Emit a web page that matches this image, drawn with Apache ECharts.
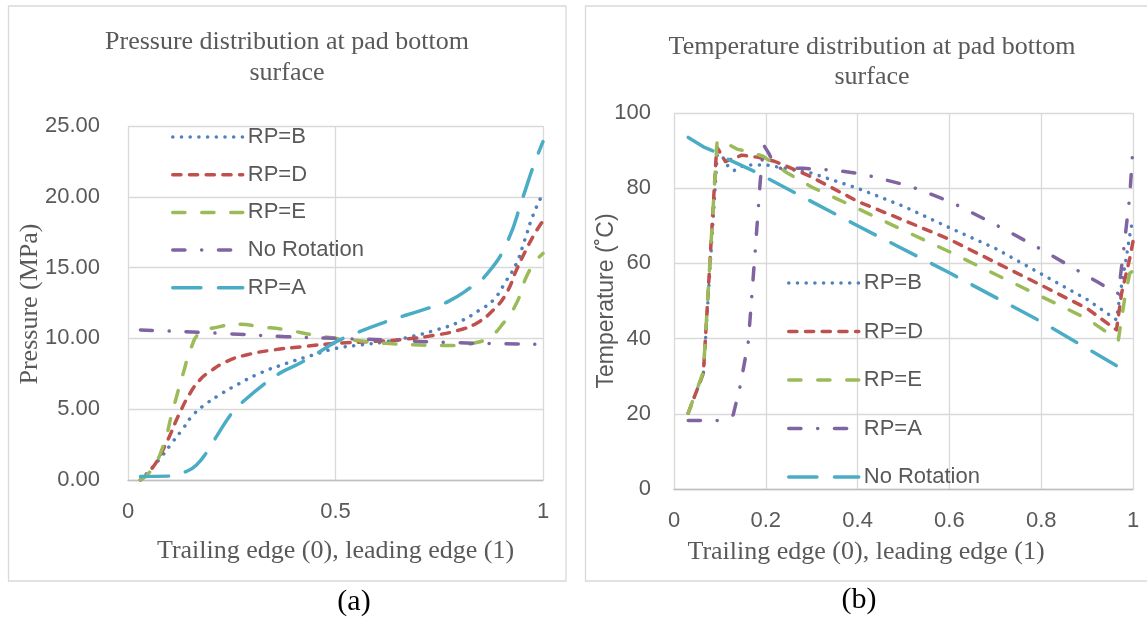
<!DOCTYPE html>
<html>
<head>
<meta charset="utf-8">
<script src="https://cdn.jsdelivr.net/npm/echarts@6/dist/echarts.min.js"></script>
<style>
html, body { margin: 0; padding: 0; background: #fff; }
#pressure { position: absolute; left: 0; top: 0; width: 576px; height: 619px; }
#temperature { position: absolute; left: 576px; top: 0; width: 571px; height: 619px; }
</style>
</head>
<body>
<div id="pressure"></div>
<div id="temperature"></div>
<script>
// (a) pressure, [position, MPa]
var pressB = [[0.03,0],[0.06,0.94],[0.084,1.77],[0.108,2.7],[0.133,3.65],[0.157,4.6],[0.189,5.4],[0.22,6.0],[0.261,6.7],[0.317,7.53],[0.382,8.24],[0.446,8.83],[0.502,9.3],[0.558,9.53],[0.622,9.77],[0.679,10.1],[0.743,10.6],[0.799,11.18],[0.847,12.0],[0.88,12.7],[0.912,14.1],[0.936,15.3],[0.956,16.95],[0.976,18.7],[1.0,20.24]];
var pressD = [[0.03,0],[0.06,0.9],[0.092,2.6],[0.124,4.7],[0.149,6.1],[0.173,7.06],[0.197,7.65],[0.237,8.36],[0.285,8.83],[0.349,9.18],[0.422,9.42],[0.502,9.65],[0.582,9.77],[0.663,9.93],[0.743,10.24],[0.799,10.6],[0.839,11.06],[0.88,12.0],[0.912,13.2],[0.936,14.83],[0.96,16.3],[0.98,17.4],[1.0,18.3]];
var pressE = [[0.03,0],[0.056,0.7],[0.084,2.35],[0.108,4.94],[0.133,7.53],[0.153,9.4],[0.173,10.36],[0.221,10.83],[0.269,11.0],[0.317,10.83],[0.382,10.6],[0.446,10.24],[0.502,10.0],[0.558,9.84],[0.622,9.65],[0.703,9.53],[0.783,9.49],[0.831,9.65],[0.871,10.1],[0.904,11.06],[0.936,12.48],[0.96,14.36],[0.984,15.5],[1.0,16.0]];
var pressNoRot = [[0.03,10.6],[0.221,10.36],[0.382,10.12],[0.502,10.0],[0.622,9.89],[0.783,9.7],[0.992,9.58]];
var pressA = [[0.03,0.24],[0.104,0.28],[0.14,0.6],[0.165,1.06],[0.193,2.1],[0.213,3.06],[0.253,4.83],[0.277,5.53],[0.325,6.7],[0.365,7.53],[0.414,8.24],[0.462,9.06],[0.502,9.77],[0.558,10.48],[0.622,11.18],[0.671,11.65],[0.735,12.24],[0.771,12.6],[0.823,13.54],[0.863,14.48],[0.912,16.7],[0.952,20.0],[0.976,22.1],[1.0,23.9]];

// (b) temperature, [position, degC]
var tempB = [[0.031,20.2],[0.064,30.8],[0.095,90.5],[0.101,89.3],[0.11,87.5],[0.119,85.6],[0.131,84.7],[0.148,85.8],[0.166,86.2],[0.2,86.2],[0.3,84],[0.4,80],[0.5,75.2],[0.6,69.5],[0.7,64],[0.8,57.2],[0.9,50.4],[0.964,45],[0.972,52],[0.986,62],[0.993,67.5],[1.0,72]];
var tempD = [[0.031,20.2],[0.064,30.8],[0.093,91],[0.112,87.1],[0.148,88.8],[0.184,88.2],[0.22,87.1],[0.256,85.3],[0.296,83.2],[0.4,76.5],[0.5,71.5],[0.6,66.4],[0.7,60.3],[0.8,54.2],[0.9,48],[0.964,42.3],[0.975,52],[0.993,61.4],[1.0,65.8]];
var tempE = [[0.031,20.2],[0.064,31.2],[0.094,92.6],[0.115,91.9],[0.137,90.4],[0.168,89.5],[0.194,88.5],[0.22,86.3],[0.246,84.1],[0.275,82.1],[0.3,80.3],[0.4,74.6],[0.5,68.8],[0.6,63.1],[0.7,57.1],[0.8,51.2],[0.9,45.3],[0.968,39.6],[0.983,51.6],[0.993,57.4],[1.0,58]];
var tempA = [[0.031,18.2],[0.097,18.2],[0.129,19.7],[0.144,27.3],[0.162,39.2],[0.177,63.5],[0.188,82],[0.195,91.5],[0.206,89.4],[0.223,85.3],[0.25,85.3],[0.282,85.3],[0.347,84.8],[0.405,83.9],[0.449,82.6],[0.515,80.5],[0.602,76.4],[0.696,70.6],[0.783,64.9],[0.871,58.7],[0.922,55.1],[0.958,52.5],[0.968,52],[0.98,64],[0.993,78],[1.0,91]];
var tempNoRot = [[0.031,93.5],[0.064,91.0],[0.089,89.7],[0.118,87.7],[0.176,84.4],[0.4,70.0],[0.6,57.5],[0.8,44.5],[0.968,32.5]];

var pressLegend = ['RP=B', 'RP=D', 'RP=E', 'No Rotation', 'RP=A'];
var tempLegend = ['RP=B', 'RP=D', 'RP=E', 'RP=A', 'No Rotation'];

// excel-like line looks
var DOT = { color: '#4F81BD', type: [0.1, 8.6] };
var SYSDASH = { color: '#C0504D', type: [8.2, 8.5] };
var DASH = { color: '#9BBB59', type: [12.2, 16.8] };
var LGDASHDOT = { color: '#8064A2', type: [12.2, 16.7, 0.1, 16.7] };
var LGDASH = { color: '#4BACC6', type: [28.2, 17.5] };
var LINE_W = 3.5;

var GREY = '#595959';
var SANS = '"Liberation Sans", Arial, sans-serif';
var SERIF = '"Liberation Serif", "Times New Roman", serif';

function makeSeries(name, data, st, smooth) {
    return {
        name: name,
        type: 'line',
        data: data,
        smooth: smooth,
        symbol: 'none',
        showSymbol: false,
        lineStyle: { color: st.color, width: LINE_W, type: st.type, cap: 'round', join: 'round' },
        itemStyle: { color: st.color },
        emphasis: { disabled: true }
    };
}

function gridLines() {
    return { show: true, lineStyle: { color: '#D9D9D9', width: 1.3 } };
}

function legendOf(names, left, top, gap) {
    return {
        data: names,
        orient: 'vertical',
        left: left,
        top: top,
        padding: 0,
        itemWidth: 70,
        itemHeight: 14,
        itemGap: gap,
        selectedMode: false,
        itemStyle: { opacity: 0 },
        lineStyle: { width: LINE_W },
        textStyle: { color: GREY, fontSize: 22, fontFamily: SANS, lineHeight: 24 }
    };
}

function textEl(text, x, y, size, family, color, rotate) {
    return {
        type: 'text',
        silent: true,
        x: x, y: y,
        rotation: rotate || 0,
        style: {
            text: text, x: 0, y: 0,
            font: size + 'px ' + family,
            fill: color,
            align: 'center', verticalAlign: 'middle',
            textAlign: 'center', textVerticalAlign: 'middle'
        }
    };
}

var pressChart = echarts.init(document.getElementById('pressure'));
pressChart.setOption({
    animation: false,
    backgroundColor: '#fff',
    graphic: [
        { type: 'rect', silent: true, shape: { x: 8.5, y: 6, width: 557.5, height: 575 },
          style: { fill: 'none', stroke: '#D9D9D9', lineWidth: 1.3 } },
        textEl('Pressure distribution at pad bottom', 287, 42, 26, SERIF, GREY),
        textEl('surface', 287, 73, 26, SERIF, GREY),
        textEl('Pressure (MPa)', 30, 304, 26, SERIF, GREY, Math.PI / 2),
        textEl('(a)', 354, 602, 30, SERIF, '#000')
    ],
    legend: legendOf(pressLegend, 171, 125, 13.7),
    grid: { left: 128, top: 126, width: 415, height: 354 },
    xAxis: {
        type: 'value', min: 0, max: 1, interval: 0.5,
        axisLine: { show: true, lineStyle: { color: '#BFBFBF', width: 1.3 } },
        axisTick: { show: false },
        splitLine: gridLines(),
        axisLabel: { color: GREY, fontSize: 22, fontFamily: SANS, margin: 21,
            formatter: function (v) { return String(v); } },
        name: 'Trailing edge (0), leading edge (1)',
        nameLocation: 'middle',
        nameGap: 58,
        nameTextStyle: { color: GREY, fontSize: 26, fontFamily: SERIF }
    },
    yAxis: {
        type: 'value', min: 0, max: 25, interval: 5,
        axisLine: { show: false },
        axisTick: { show: false },
        splitLine: gridLines(),
        axisLabel: { color: GREY, fontSize: 22, fontFamily: SANS, margin: 28,
            formatter: function (v) { return v.toFixed(2); } }
    },
    series: [
        makeSeries('RP=B', pressB, DOT, true),
        makeSeries('RP=D', pressD, SYSDASH, true),
        makeSeries('RP=E', pressE, DASH, true),
        makeSeries('No Rotation', pressNoRot, LGDASHDOT, true),
        makeSeries('RP=A', pressA, LGDASH, true)
    ]
});

var tempChart = echarts.init(document.getElementById('temperature'));
tempChart.setOption({
    animation: false,
    backgroundColor: '#fff',
    graphic: [
        { type: 'rect', silent: true, shape: { x: 9.5, y: 6, width: 600, height: 575 },
          style: { fill: 'none', stroke: '#D9D9D9', lineWidth: 1.3 } },
        textEl('Temperature distribution at pad bottom', 296, 47, 26, SERIF, GREY),
        textEl('surface', 296, 77, 26, SERIF, GREY),
        textEl('Temperature (˚C)', 31, 301, 23, SANS, GREY, Math.PI / 2),
        textEl('(b)', 283, 600, 30, SERIF, '#000')
    ],
    legend: legendOf(tempLegend, 211, 271, 24.5),
    grid: { left: 98, top: 113, width: 459, height: 376 },
    xAxis: {
        type: 'value', min: 0, max: 1, interval: 0.2,
        axisLine: { show: true, lineStyle: { color: '#BFBFBF', width: 1.3 } },
        axisTick: { show: false },
        splitLine: gridLines(),
        axisLabel: { color: GREY, fontSize: 22, fontFamily: SANS, margin: 21,
            formatter: function (v) { return String(+v.toFixed(1)); } },
        name: 'Trailing edge (0), leading edge (1)',
        nameLocation: 'middle',
        nameGap: 50,
        nameTextStyle: { color: GREY, fontSize: 26, fontFamily: SERIF, padding: [0, 75, 0, 0] }
    },
    yAxis: {
        type: 'value', min: 0, max: 100, interval: 20,
        axisLine: { show: false },
        axisTick: { show: false },
        splitLine: gridLines(),
        axisLabel: { color: GREY, fontSize: 22, fontFamily: SANS, margin: 23 }
    },
    series: [
        makeSeries('RP=B', tempB, DOT, false),
        makeSeries('RP=D', tempD, SYSDASH, false),
        makeSeries('RP=E', tempE, DASH, false),
        makeSeries('RP=A', tempA, LGDASHDOT, false),
        makeSeries('No Rotation', tempNoRot, LGDASH, false)
    ]
});
</script>
</body>
</html>
